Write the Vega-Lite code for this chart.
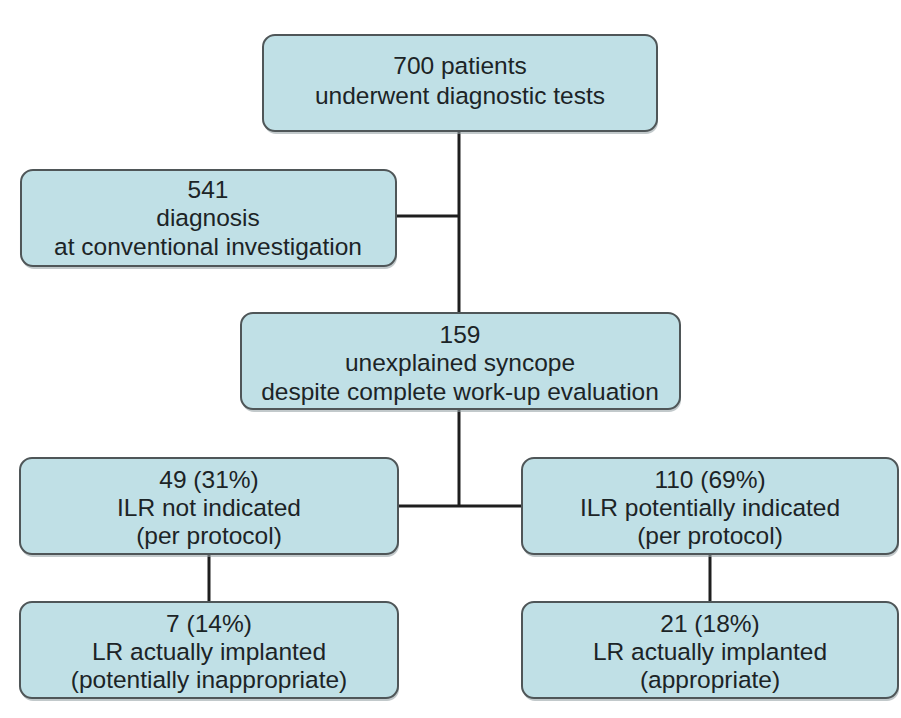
{
  "$schema": "https://vega.github.io/schema/vega-lite/v6.json",
  "width": 901,
  "height": 718,
  "autosize": {"type": "fit", "contains": "padding"},
  "padding": 0,
  "background": "white",
  "config": {"view": {"stroke": null}},
  "datasets": {
    "boxes": [
      {"id": "b1", "x": 263, "x2": 657, "y": 35, "y2": 131},
      {"id": "b2", "x": 21, "x2": 396, "y": 170, "y2": 266},
      {"id": "b3", "x": 241, "x2": 680, "y": 313, "y2": 409},
      {"id": "b4", "x": 20, "x2": 398, "y": 458, "y2": 554},
      {"id": "b5", "x": 522, "x2": 898, "y": 458, "y2": 554},
      {"id": "b6", "x": 20, "x2": 398, "y": 602, "y2": 698},
      {"id": "b7", "x": 522, "x2": 898, "y": 602, "y2": 698}
    ],
    "links": [
      {"x": 459, "x2": 459, "y": 131, "y2": 313},
      {"x": 396, "x2": 459, "y": 216, "y2": 216},
      {"x": 459, "x2": 459, "y": 409, "y2": 506},
      {"x": 398, "x2": 522, "y": 506, "y2": 506},
      {"x": 209, "x2": 209, "y": 554, "y2": 602},
      {"x": 710, "x2": 710, "y": 554, "y2": 602}
    ],
    "labels": [
      {"x": 460, "y": 67, "text": "700 patients"},
      {"x": 460, "y": 97, "text": "underwent diagnostic tests"},
      {"x": 208, "y": 191, "text": "541"},
      {"x": 208, "y": 219, "text": "diagnosis"},
      {"x": 208, "y": 248, "text": "at conventional investigation"},
      {"x": 460, "y": 336, "text": "159"},
      {"x": 460, "y": 364, "text": "unexplained syncope"},
      {"x": 460, "y": 393, "text": "despite complete work-up evaluation"},
      {"x": 209, "y": 481, "text": "49 (31%)"},
      {"x": 209, "y": 509, "text": "ILR not indicated"},
      {"x": 209, "y": 537, "text": "(per protocol)"},
      {"x": 710, "y": 481, "text": "110 (69%)"},
      {"x": 710, "y": 509, "text": "ILR potentially indicated"},
      {"x": 710, "y": 537, "text": "(per protocol)"},
      {"x": 209, "y": 625, "text": "7 (14%)"},
      {"x": 209, "y": 653, "text": "LR actually implanted"},
      {"x": 209, "y": 681, "text": "(potentially inappropriate)"},
      {"x": 710, "y": 625, "text": "21 (18%)"},
      {"x": 710, "y": 653, "text": "LR actually implanted"},
      {"x": 710, "y": 681, "text": "(appropriate)"}
    ]
  },
  "layer": [
    {
      "data": {"name": "links"},
      "mark": {"type": "rule", "stroke": "#1e1e1e", "strokeWidth": 3},
      "encoding": {
        "x": {"field": "x", "type": "quantitative", "scale": {"domain": [0, 901]}, "axis": null},
        "x2": {"field": "x2"},
        "y": {"field": "y", "type": "quantitative", "scale": {"domain": [0, 718], "reverse": true}, "axis": null},
        "y2": {"field": "y2"}
      }
    },
    {
      "data": {"name": "boxes"},
      "mark": {"type": "rect", "cornerRadius": 12, "fill": "#9aa5a8", "opacity": 0.6, "yOffset": 3, "y2Offset": 3, "xOffset": 1, "x2Offset": 1},
      "encoding": {
        "x": {"field": "x", "type": "quantitative", "scale": {"domain": [0, 901]}, "axis": null},
        "x2": {"field": "x2"},
        "y": {"field": "y", "type": "quantitative", "scale": {"domain": [0, 718], "reverse": true}, "axis": null},
        "y2": {"field": "y2"}
      }
    },
    {
      "data": {"name": "boxes"},
      "mark": {"type": "rect", "cornerRadius": 12, "fill": "#c0e0e6", "stroke": "#4f5658", "strokeWidth": 2},
      "encoding": {
        "x": {"field": "x", "type": "quantitative", "scale": {"domain": [0, 901]}, "axis": null},
        "x2": {"field": "x2"},
        "y": {"field": "y", "type": "quantitative", "scale": {"domain": [0, 718], "reverse": true}, "axis": null},
        "y2": {"field": "y2"}
      }
    },
    {
      "data": {"name": "labels"},
      "mark": {"type": "text", "font": "Liberation Sans", "fontSize": 24.5, "fill": "#1c2426", "align": "center", "baseline": "middle"},
      "encoding": {
        "x": {"field": "x", "type": "quantitative", "scale": {"domain": [0, 901]}, "axis": null},
        "y": {"field": "y", "type": "quantitative", "scale": {"domain": [0, 718], "reverse": true}, "axis": null},
        "text": {"field": "text"}
      }
    }
  ]
}
